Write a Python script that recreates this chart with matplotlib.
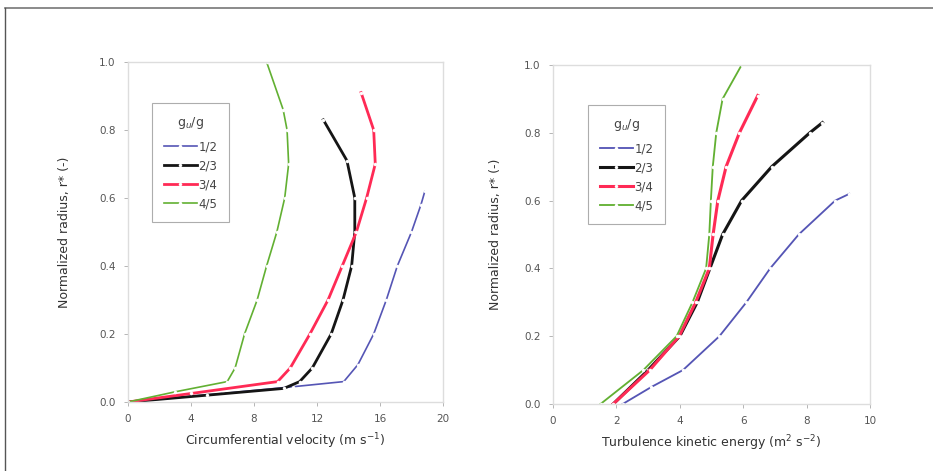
import matplotlib
matplotlib.use("Agg")
import matplotlib.pyplot as plt

# ---- data ----
ratios = ["1/2", "2/3", "3/4", "4/5"]
colors = ["#5555b5", "#151515", "#ff2a55", "#62b032"]
widths = [1.2, 2.0, 2.0, 1.2]

# circumferential velocity (m/s) vs r*
vel_x = [
    [0, 6, 10.5, 13.7, 14.6, 15.6, 16.4, 17.1, 18.0, 18.6, 18.85],
    [0, 5, 9.9, 10.9, 11.7, 12.9, 13.65, 14.2, 14.4, 14.4, 13.9, 12.4],
    [0, 4, 9.5, 10.3, 11.55, 12.7, 13.6, 14.5, 15.15, 15.7, 15.6, 14.8],
    [0, 3, 6.3, 6.8, 7.4, 8.2, 8.8, 9.45, 9.95, 10.2, 10.1, 9.85, 8.8],
]
vel_y = [
    [0, 0.025, 0.045, 0.06, 0.11, 0.2, 0.3, 0.4, 0.5, 0.58, 0.62],
    [0, 0.02, 0.04, 0.06, 0.1, 0.2, 0.3, 0.4, 0.5, 0.6, 0.71, 0.83],
    [0, 0.025, 0.06, 0.1, 0.2, 0.3, 0.4, 0.5, 0.6, 0.7, 0.8, 0.91],
    [0, 0.03, 0.06, 0.1, 0.2, 0.3, 0.4, 0.5, 0.6, 0.7, 0.8, 0.86, 1.0],
]

# turbulence kinetic energy vs r*
tke_x = [
    [2.2, 3.1, 4.1, 5.25, 6.1, 6.85, 7.75, 8.9, 9.35],
    [1.9, 3.0, 4.0, 4.55, 4.95, 5.35, 5.95, 6.9, 8.1, 8.5],
    [1.9, 3.05, 3.98, 4.5, 4.93, 5.05, 5.2, 5.46, 5.88, 6.46],
    [1.5, 2.85, 3.9, 4.4, 4.83, 4.93, 4.98, 5.04, 5.15, 5.35, 5.95],
]
tke_y = [
    [0, 0.05, 0.1, 0.2, 0.3, 0.4, 0.5, 0.6, 0.62],
    [0, 0.1, 0.2, 0.3, 0.4, 0.5, 0.6, 0.7, 0.8, 0.83],
    [0, 0.1, 0.2, 0.3, 0.4, 0.5, 0.6, 0.7, 0.8, 0.91],
    [0, 0.1, 0.2, 0.3, 0.4, 0.5, 0.6, 0.7, 0.8, 0.9, 1.0],
]

vel_ticks = [0, 4, 8, 12, 16, 20]
tke_ticks = [0, 2, 4, 6, 8, 10]
r_ticks = [0.0, 0.2, 0.4, 0.6, 0.8, 1.0]

fig = plt.figure(figsize=(9.33, 4.71), dpi=100)
fig.patch.set_facecolor("white")

# outer border (only top and left visible in the reference)
fig.add_artist(plt.Line2D([0.005, 1.0], [0.983, 0.983], color="#777777", lw=1.2))
fig.add_artist(plt.Line2D([0.0055, 0.0055], [0.0, 0.983], color="#555555", lw=1.0))

ax1 = fig.add_axes([0.1372, 0.1465, 0.3376, 0.7219])
ax2 = fig.add_axes([0.5927, 0.1423, 0.3398, 0.7197])


def style(ax, xticks, xlabel, xmax, ypad):
    ax.set_xlim(0, xmax)
    ax.set_ylim(0, 1.0)
    ax.set_xticks(xticks)
    ax.set_yticks(r_ticks)
    ax.set_yticklabels(["%.1f" % v for v in r_ticks])
    for sp in ax.spines.values():
        sp.set_color("#dddddd")
        sp.set_linewidth(1.0)
    ax.tick_params(direction="out", length=3, width=0.6, color="#aaaaaa",
                   labelsize=7.5, labelcolor="#555555", pad=6)
    ax.set_xlabel(xlabel, fontsize=9, color="#333333", labelpad=5)
    ax.set_ylabel("Normalized radius, r* (-)", fontsize=9, color="#333333", labelpad=ypad)


def draw(ax, xs, ys, lw_scale=1.0):
    for x, y, c, w, lab in zip(xs, ys, colors, widths, ratios):
        ax.plot(x, y, color=c, lw=w * lw_scale, marker="o", ms=2.2,
                mfc="white", mec="white", mew=0.3, label=lab)


draw(ax1, vel_x, vel_y)
draw(ax2, tke_x, tke_y, lw_scale=1.1)

style(ax1, vel_ticks, r"Circumferential velocity (m s$^{-1}$)", 20, 20)
style(ax2, tke_ticks, r"Turbulence kinetic energy (m$^{2}$ s$^{-2}$)", 10, 16)

for ax, anchor in ((ax1, (0.076, 0.88)), (ax2, (0.11, 0.882))):
    leg = ax.legend(title=r"g$_u$/g", loc="upper left", bbox_to_anchor=anchor,
                    fontsize=8.5, title_fontsize=9, frameon=True, fancybox=False,
                    handlelength=2.8, handletextpad=0.15, labelspacing=0.5,
                    borderpad=1.0, borderaxespad=0.0)
    leg.get_frame().set_edgecolor("#999999")
    leg.get_frame().set_linewidth(0.8)
    leg._legend_box.sep = 7
    for t in leg.get_texts():
        t.set_color("#444444")
    leg.get_title().set_color("#444444")

fig.savefig("out.png", dpi=100, facecolor="white")
